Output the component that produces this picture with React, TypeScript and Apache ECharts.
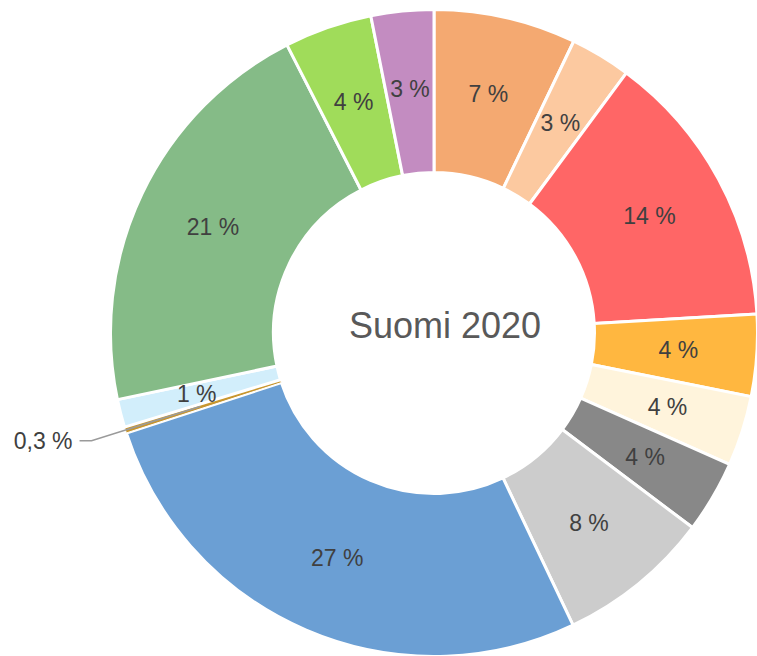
import React, { useEffect, useRef } from "react";
import * as echarts from "echarts";

const categories = [
  "Luokka A", "Luokka B", "Luokka C", "Luokka D", "Luokka E", "Luokka F", "Luokka G",
  "Luokka H", "Luokka I", "Luokka J", "Luokka K", "Luokka L", "Luokka M",
];
const shares = [7.11, 3.03, 13.92, 4.09, 3.51, 3.61, 7.66, 27.07, 0.3, 1.4, 20.79, 4.38, 3.13];
const colors = [
  "#F4A971", "#FCC9A0", "#FF6666", "#FFB740", "#FFF4DC", "#888888", "#CCCCCC",
  "#6B9FD4", "#C8962E", "#D2EEFB", "#85BB87", "#A0DC5A", "#C38CC1",
];
const centerTitle = "Suomi 2020";
const outsideLabelIndex = 8;

const fmt = (p: number) =>
  p < 1 ? p.toFixed(1).replace(".", ",") + " %" : Math.round(p) + " %";

export default function App() {
  const ref = useRef<HTMLDivElement>(null);
  useEffect(() => {
    if (!ref.current) return;
    const chart = echarts.init(ref.current, undefined, { renderer: "svg" });
    const mainData = categories.map((name, i) => ({
      name,
      value: shares[i],
      itemStyle: { color: colors[i], borderWidth: i === outsideLabelIndex ? 1 : 3 },
      label: { show: i !== outsideLabelIndex },
    }));
    const overlayData = categories.map((name, i) => ({
      name,
      value: shares[i],
      label: { show: i === outsideLabelIndex },
      labelLine: { show: i === outsideLabelIndex },
    }));
    chart.setOption({
      animation: false,
      graphic: [
        {
          type: "text",
          x: 445,
          y: 325,
          style: {
            text: centerTitle,
            fill: "#595959",
            font: '36px "Liberation Sans", Arial, sans-serif',
            textAlign: "center",
            textVerticalAlign: "middle",
          },
        },
      ],
      series: [
        {
          type: "pie",
          z: 2,
          center: [434, 333],
          radius: [160.5, 323.5],
          startAngle: 90,
          clockwise: true,
          silent: true,
          avoidLabelOverlap: false,
          itemStyle: { borderColor: "#ffffff", borderWidth: 3 },
          label: {
            position: "inside",
            formatter: (p: any) => fmt(p.percent),
            fontSize: 23,
            fontFamily: '"Liberation Sans", Arial, sans-serif',
            color: "#404040",
          },
          labelLine: { show: false },
          data: mainData,
        },
        {
          type: "pie",
          z: 5,
          center: [434, 333],
          radius: [160, 245],
          startAngle: 90,
          clockwise: true,
          silent: true,
          avoidLabelOverlap: false,
          itemStyle: { color: "rgba(0,0,0,0)", borderWidth: 0 },
          label: {
            position: "outside",
            formatter: (p: any) => fmt(p.percent),
            fontSize: 23,
            fontFamily: '"Liberation Sans", Arial, sans-serif',
            color: "#404040",
            distanceToLabelLine: 7,
          },
          labelLine: {
            showAbove: true,
            length: 114,
            length2: 12,
            lineStyle: { color: "#9a9a9a", width: 1.5 },
          },
          data: overlayData,
        },
      ],
    });
    return () => chart.dispose();
  }, []);
  return (
    <div
      ref={ref}
      style={{ position: "absolute", left: 0, top: 0, width: 757, height: 656 }}
    />
  );
}
